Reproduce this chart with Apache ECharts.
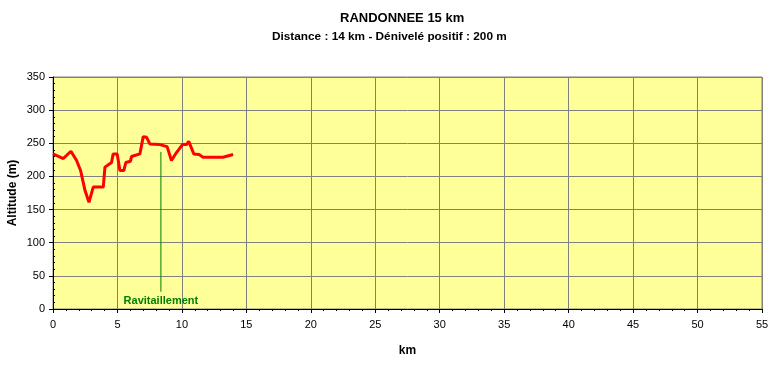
<!DOCTYPE html>
<html><head><meta charset="utf-8">
<script src="https://cdn.jsdelivr.net/npm/echarts@6/dist/echarts.min.js"></script>
<style>html,body{margin:0;padding:0;background:#fff}#c{width:773px;height:365px}</style>
</head><body><div id="c"></div>
<script>
var titleText = 'RANDONNEE 15 km';
var subtitleText = 'Distance : 14 km - Dénivelé positif : 200 m';
var distanceKm = [0, 0.8, 1.39, 1.83, 2.14, 2.48, 2.79, 3.12, 3.9, 4.03, 4.54, 4.67, 4.98, 5.19, 5.5, 5.65, 6.01, 6.09, 6.74, 7.0, 7.26, 7.51, 8.29, 8.85, 9.19, 9.58, 10.04, 10.35, 10.53, 10.92, 11.33, 11.64, 13.19, 13.97];
var altitudeM = [234, 227, 238, 224, 209, 179, 161, 184, 184, 214, 221, 234, 234, 209, 209, 221, 223, 230, 234, 260, 259, 249, 248, 245, 224, 236, 248, 248, 253, 234, 233, 229, 229, 233];
var supplyKm = [8.37, 8.37];
var supplyAlt = [26, 237];
var supplyLabel = 'Ravitaillement';
var xMin = 0, xMax = 55, xStep = 5;
var yMin = 0, yMax = 350, yStep = 50;

var profile = distanceKm.map(function(d, i){ return [d, altitudeM[i]]; });
var supply = supplyKm.map(function(d, i){ return [d, supplyAlt[i]]; });
var font = 'Liberation Sans, Arial, sans-serif';

var chart = echarts.init(document.getElementById('c'), null, {renderer:'canvas'});
chart.setOption({
  backgroundColor: '#ffffff',
  animation: false,
  title: [
    {text: titleText, left: 340, top: 12, padding: 0,
     textStyle: {fontFamily: font, fontWeight: 'bold', fontSize: 13, color: '#000'}},
    {text: subtitleText, left: 272, top: 31, padding: 0,
     textStyle: {fontFamily: font, fontWeight: 'bold', fontSize: 11.8, color: '#000'}}
  ],
  grid: {left: 53, top: 77, right: 11, bottom: 56, show: true, backgroundColor: '#FFFF99', borderColor: '#808080', borderWidth: 1, containLabel: false, outerBoundsMode: 'none'},
  xAxis: {
    type: 'value', min: xMin, max: xMax, interval: xStep,
    name: 'km', nameLocation: 'middle', nameGap: 36, nameMoveOverlap: false,
    nameTextStyle: {fontFamily: font, fontWeight: 'bold', fontSize: 12, color: '#000'},
    axisLine: {lineStyle: {color: '#000', width: 1}},
    axisTick: {show: true, length: 4, lineStyle: {color: '#000'}},
    minorTick: {show: true, splitNumber: 5, length: 2, lineStyle: {color: '#000'}},
    axisLabel: {fontFamily: font, fontSize: 11, color: '#000', margin: 10},
    splitLine: {show: true, lineStyle: {color: '#808080', width: 1}}
  },
  yAxis: [
    {
      type: 'value', min: yMin, max: yMax, interval: yStep,
      name: 'Altitude (m)', nameLocation: 'middle', nameGap: 34, nameRotate: 90, nameMoveOverlap: false,
      nameTextStyle: {fontFamily: font, fontWeight: 'bold', fontSize: 12, color: '#000'},
      axisLine: {show: true, lineStyle: {color: '#000', width: 1}},
      axisTick: {show: true, length: 4, lineStyle: {color: '#000'}},
      axisLabel: {fontFamily: font, fontSize: 11, color: '#000', margin: 8},
      splitLine: {show: true, lineStyle: {color: '#808080', width: 1}}
    },
    {
      type: 'value', min: yMin, max: yMax, interval: yStep, position: 'left', offset: 0,
      axisLine: {show: false},
      axisTick: {show: false, inside: true},
      minorTick: {show: true, splitNumber: 5, length: 2, lineStyle: {color: '#000'}},
      axisLabel: {show: false},
      splitLine: {show: false}
    }
  ],
  series: [
    {
      type: 'line', data: profile, showSymbol: false, symbol: 'none',
      lineStyle: {color: '#FF0000', width: 3}, z: 3
    },
    {
      type: 'line', data: supply, symbol: 'none', showSymbol: false,
      lineStyle: {color: '#008000', width: 1}, z: 2,
      markPoint: {
        symbol: 'circle', symbolSize: 0,
        data: [{coord: supply[0], value: supplyLabel}],
        label: {show: true, position: 'bottom', distance: 4, formatter: supplyLabel,
          fontFamily: font, fontWeight: 'bold', fontSize: 11, color: '#008000'}
      }
    }
  ]
});
</script></body></html>
